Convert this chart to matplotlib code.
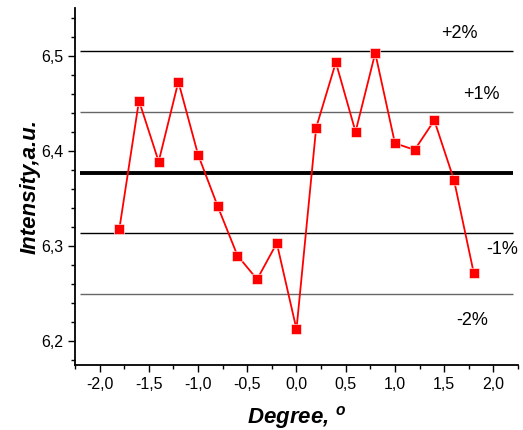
import matplotlib
matplotlib.use('Agg')
import matplotlib.pyplot as plt
from matplotlib.ticker import MultipleLocator, FuncFormatter

plt.rcParams['font.family'] = ['Liberation Sans', 'DejaVu Sans']
plt.rcParams['mathtext.fontset'] = 'custom'
plt.rcParams['mathtext.bf'] = 'Liberation Sans:bold:italic'
plt.rcParams['mathtext.rm'] = 'Liberation Sans'

# measured intensity vs angle
degree = [-1.8, -1.6, -1.4, -1.2, -1.0, -0.8, -0.6, -0.4, -0.2, 0.0,
          0.2, 0.4, 0.6, 0.8, 1.0, 1.2, 1.4, 1.6, 1.8]
intensity = [6.3175, 6.4527, 6.3887, 6.4727, 6.396, 6.3417, 6.290, 6.265, 6.303, 6.2125,
             6.4244, 6.493, 6.420, 6.5028, 6.408, 6.401, 6.432, 6.3694, 6.272]

mean_level = 6.377
band_pct = [2, 1, -1, -2]
band_labels = ['+2%', '+1%', '-1%', '-2%']
band_colors = ['black', '#666666', 'black', '#666666']
label_pos = [(1.65, 6.523), (1.88, 6.459), (2.09, 6.296), (1.78, 6.222)]

fig = plt.figure(figsize=(5.23, 4.3), dpi=100)
ax = fig.add_axes([0.1434, 0.1512, 0.847, 0.830])

# reference levels
ax.hlines(mean_level, -2.2, 2.2, colors='black', linewidth=2.8, zorder=1)
for p, c in zip(band_pct, band_colors):
    ax.hlines(mean_level * (1 + p / 100.0), -2.2, 2.2, colors=c, linewidth=1.0, zorder=1)
for lab, (lx, ly) in zip(band_labels, label_pos):
    ax.text(lx, ly, lab, ha='center', va='center', fontsize=13)

ax.plot(degree, intensity, color='red', linewidth=1.3, marker='s',
        markersize=6.5, markerfacecolor='red', markeredgecolor='white',
        markeredgewidth=0.4, zorder=3)

ax.set_xlim(-2.25, 2.25)
ax.set_ylim(6.175, 6.55)
ax.xaxis.set_major_locator(MultipleLocator(0.5))
ax.xaxis.set_minor_locator(MultipleLocator(0.25))
ax.yaxis.set_major_locator(MultipleLocator(0.1))
ax.yaxis.set_minor_locator(MultipleLocator(0.02))
comma = FuncFormatter(lambda v, pos: ('%.1f' % v).replace('.', ','))
ax.xaxis.set_major_formatter(comma)
ax.yaxis.set_major_formatter(comma)

ax.spines['top'].set_visible(False)
ax.spines['right'].set_visible(False)
ax.spines['left'].set_linewidth(1.3)
ax.spines['bottom'].set_linewidth(1.3)
ax.tick_params(which='major', length=5, width=1.0, labelsize=11.5)
ax.tick_params(which='minor', length=3, width=1.0)

ax.set_xlabel(r'Degree, $^{\mathbf{o}}$', fontsize=16, fontweight='bold', style='italic', labelpad=9)
ax.set_ylabel('Intensity,a.u.', fontsize=16, fontweight='bold', style='italic', labelpad=0)

fig.savefig('out.png', dpi=100)
